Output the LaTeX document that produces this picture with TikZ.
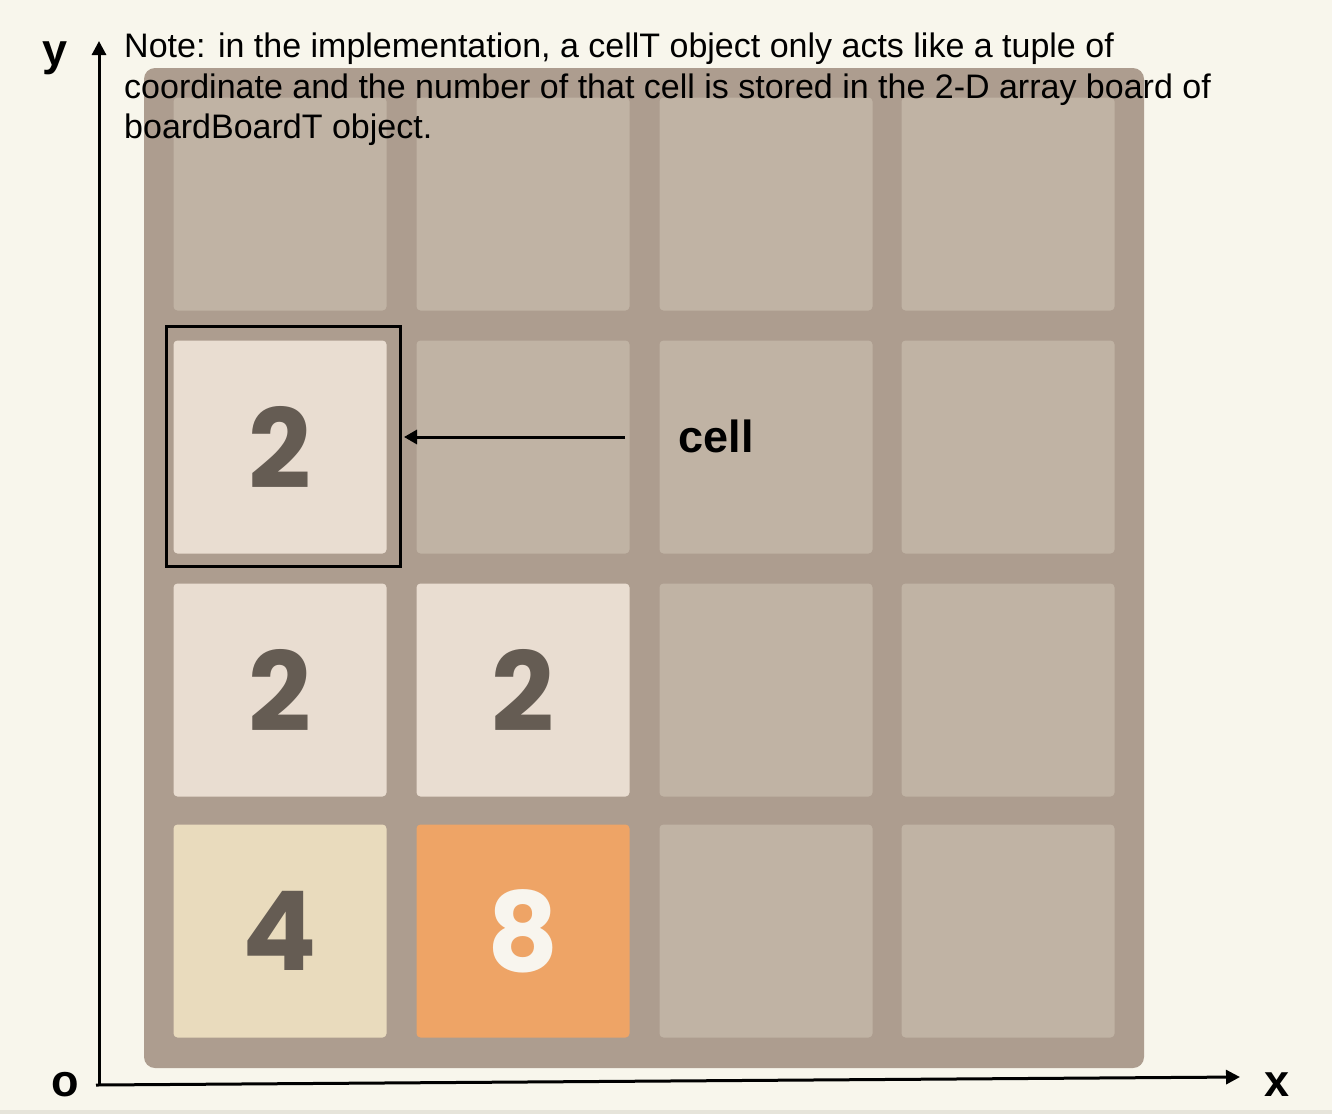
\documentclass[tikz,border=0pt]{standalone}
\usepackage{fontspec}
\setmainfont{Liberation Sans}
\newfontfamily\numfont{Poppins}
\usetikzlibrary{arrows.meta}
\definecolor{bgc}{HTML}{F8F6EC}
\definecolor{stripc}{HTML}{E6E4DA}
\definecolor{boardc}{HTML}{AD9D8F}
\definecolor{emptyc}{HTML}{C0B3A4}
\definecolor{twoc}{HTML}{E9DDD1}
\definecolor{fourc}{HTML}{E9DBBD}
\definecolor{eightc}{HTML}{EEA466}
\definecolor{darknum}{HTML}{655C53}
\definecolor{lightnum}{HTML}{F8F5EE}
\tikzset{
  tile/.style={rectangle, rounded corners=4pt, minimum width=213pt, minimum height=213pt, inner sep=0pt, fill=emptyc},
  numtxt/.style={font=\numfont\bfseries\fontsize{110}{110}\selectfont, text=darknum},
  notetxt/.style={anchor=base west, inner sep=0pt, font=\fontsize{34}{40.5}\selectfont, text=black},
  axlabel/.style={inner sep=0pt, font=\bfseries\fontsize{45}{45}\selectfont, text=black},
  axisline/.style={line width=3pt, -{Triangle[length=14pt,width=14pt]}},
}
\begin{document}
\begin{tikzpicture}[x=1pt,y=-1pt]
\useasboundingbox (0,0) rectangle (1332,1114);
\fill[bgc] (0,0) rectangle (1332,1114);
\fill[stripc] (0,1110) rectangle (1332,1114);
% board
\node[rectangle, rounded corners=11pt, fill=boardc, minimum width=1000pt, minimum height=1000pt, inner sep=0pt] (board) at (644,568) {};
% row 1
\node[tile] (t11) at (280,204) {};
\node[tile] (t12) at (523,204) {};
\node[tile] (t13) at (766,204) {};
\node[tile] (t14) at (1008,204) {};
% row 2
\node[tile, fill=twoc, numtxt] (t21) at (280,447) {2};
\node[tile] (t22) at (523,447) {};
\node[tile] (t23) at (766,447) {};
\node[tile] (t24) at (1008,447) {};
% row 3
\node[tile, fill=twoc, numtxt] (t31) at (280,690) {2};
\node[tile, fill=twoc, numtxt] (t32) at (523,690) {2};
\node[tile] (t33) at (766,690) {};
\node[tile] (t34) at (1008,690) {};
% row 4
\node[tile, fill=fourc, numtxt] (t41) at (280,931) {4};
\node[tile, fill=eightc, numtxt, text=lightnum] (t42) at (523,931) {8};
\node[tile] (t43) at (766,931) {};
\node[tile] (t44) at (1008,931) {};
% highlight
\node[rectangle, draw=black, line width=3pt, minimum width=234pt, minimum height=240pt, inner sep=0pt] (hl) at (283,446.5) {};
\coordinate (arrstart) at (625,437);
\coordinate (arrtip) at (404,437);
\draw[line width=3pt, -{Triangle[length=13pt,width=14pt]}] (arrstart) -- (arrtip);
\node[axlabel, anchor=base] (celllbl) at (716,452) {cell};
% axes
\coordinate (origin) at (99,1084);
\coordinate (ytip) at (99,41);
\coordinate (xstart) at (96,1085);
\coordinate (xtip) at (1240,1077);
\draw[axisline] (origin) -- (ytip);
\draw[axisline] (xstart) -- (xtip);
\node[axlabel, anchor=base] (ylbl) at (55,65) {y};
\node[axlabel, anchor=base] (olbl) at (65,1096) {o};
\node[axlabel, anchor=base] (xlbl) at (1277,1096) {x};
% note
\node[notetxt] (note1) at (124,57.5) {Note: in the implementation, a cellT object only acts like a tuple of};
\node[notetxt] (note2) at (124,98) {coordinate and the number of that cell is stored in the 2-D array board of};
\node[notetxt] (note3) at (124,138.5) {boardBoardT object.};
\end{tikzpicture}
\end{document}
